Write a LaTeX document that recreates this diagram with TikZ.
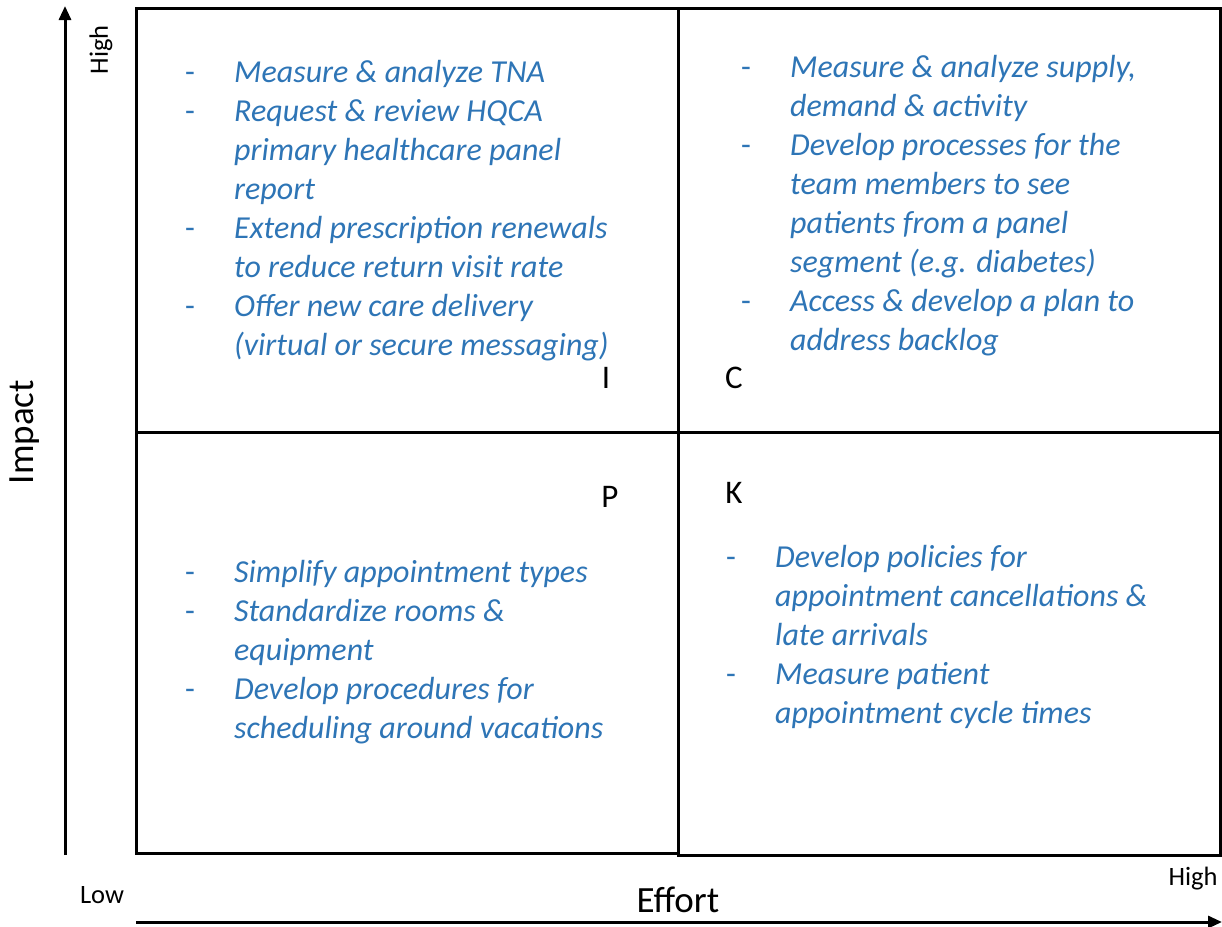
\documentclass[tikz,border=0pt]{standalone}
\usepackage{fontspec}
\setmainfont{Carlito}
\usetikzlibrary{arrows.meta}
\definecolor{itemblue}{HTML}{2E75B6}
\tikzset{
  quad/.style={draw=black, line width=3pt},
  axis/.style={line width=3pt, -{Triangle[length=14pt,width=12pt]}},
  items/.style={anchor=base west, inner sep=0pt, text=itemblue, font=\fontsize{32}{39}\selectfont},
  letter/.style={font=\fontsize{33}{38}\selectfont, inner sep=0pt},
  axlabel/.style={font=\fontsize{26.5}{30}\selectfont, inner sep=0pt},
  axtitle/.style={font=\fontsize{37}{42}\selectfont, inner sep=0pt}
}
\newcommand{\itm}[1]{-&\itshape #1}
\newcommand{\cnt}[1]{&\itshape #1}
\begin{document}
\begin{tikzpicture}[x=1pt,y=-1pt]
\useasboundingbox (0,0) rectangle (1222,926);
% quadrants
\draw[quad] (136,8) rectangle (678,432);
\draw[quad] (678,8) rectangle (1220,432);
\draw[quad] (136,432) rectangle (678,853);
\draw[quad] (678,432) rectangle (1220,855);
% axes
\coordinate (ybot) at (65,855);
\coordinate (ytop) at (65,6);
\coordinate (xl) at (136,922);
\coordinate (xr) at (1222,922);
\draw[axis] (ybot) -- (ytop);
\draw[axis] (xl) -- (xr);
% axis labels
\node[axlabel, rotate=90] (yhigh) at (101,50) {High};
\node[axtitle, rotate=90] (impact) at (25,432) {Impact};
\node[axlabel] (xlow) at (102,895) {Low};
\node[axtitle] (effort) at (678,900) {Effort};
\node[axlabel] (xhigh) at (1193,879) {High};
% letters
\node[letter] (lI) at (606,378) {I};
\node[letter] (lC) at (734,378) {C};
\node[letter] (lP) at (610,497) {P};
\node[letter] (lK) at (734,493) {K};
% item lists
\node[items] (tl) at (185,82) {\begin{tabular}[t]{@{}p{49pt}@{}l@{}}
\itm{Measure \& analyze TNA}\\
\itm{Request \& review HQCA}\\
\cnt{primary healthcare panel}\\
\cnt{report}\\
\itm{Extend prescription renewals}\\
\cnt{to reduce return visit rate}\\
\itm{Offer new care delivery}\\
\cnt{(virtual or secure messaging)}
\end{tabular}};
\node[items] (tr) at (741,77) {\begin{tabular}[t]{@{}p{49pt}@{}l@{}}
\itm{Measure \& analyze supply,}\\
\cnt{demand \& activity}\\
\itm{Develop processes for the}\\
\cnt{team members to see}\\
\cnt{patients from a panel}\\
\cnt{segment (e.g. diabetes)}\\
\itm{Access \& develop a plan to}\\
\cnt{address backlog}
\end{tabular}};
\node[items] (bl) at (185,582) {\begin{tabular}[t]{@{}p{49pt}@{}l@{}}
\itm{Simplify appointment types}\\
\itm{Standardize rooms \&}\\
\cnt{equipment}\\
\itm{Develop procedures for}\\
\cnt{scheduling around vacations}
\end{tabular}};
\node[items] (br) at (726,567) {\begin{tabular}[t]{@{}p{49pt}@{}l@{}}
\itm{Develop policies for}\\
\cnt{appointment cancellations \&}\\
\cnt{late arrivals}\\
\itm{Measure patient}\\
\cnt{appointment cycle times}
\end{tabular}};
\end{tikzpicture}
\end{document}
